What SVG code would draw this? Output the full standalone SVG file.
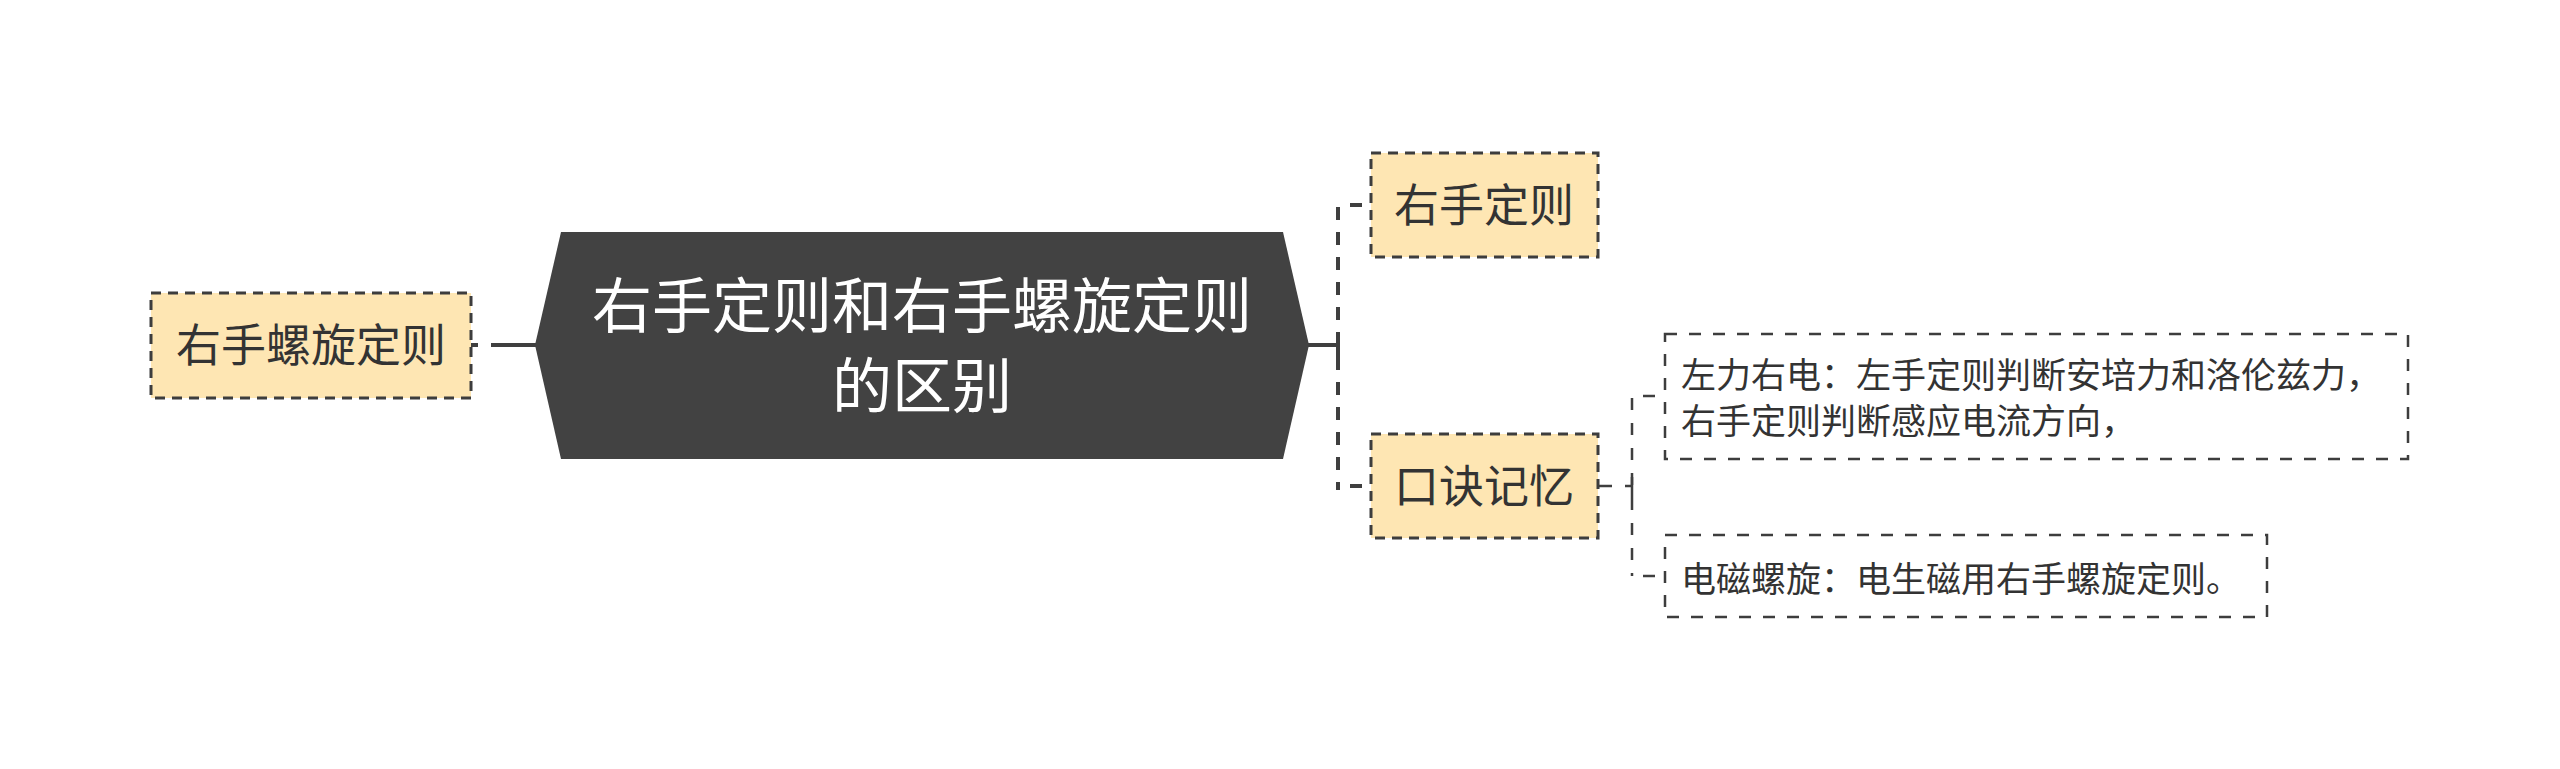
<svg xmlns="http://www.w3.org/2000/svg" width="2560" height="769" viewBox="0 0 2560 769">
<style>
  .bg { fill: #ffffff; }
  .yellow { fill: #FEE6B3; stroke: #3d3d3d; stroke-width: 3; stroke-dasharray: 10 7; }
  .white { fill: #ffffff; stroke: #3d3d3d; stroke-width: 2.5; stroke-dasharray: 12 12; }
  .center { fill: #424242; }
  .t { font-family: "Noto Sans CJK SC", "Noto Sans", sans-serif; fill: #333333; }
  .tc { font-family: "Noto Sans CJK SC", "Noto Sans", sans-serif; fill: #ffffff; font-size: 60px; text-anchor: middle; }
  .tm { font-size: 45px; text-anchor: middle; }
  .ts { font-size: 35px; }
  .solid { stroke: #3f3f3f; stroke-width: 4; fill: none; }
  .dash { stroke: #3f3f3f; stroke-width: 4; fill: none; stroke-dasharray: 13 12; }
  .solid2 { stroke: #3f3f3f; stroke-width: 2.5; fill: none; }
  .dash2 { stroke: #3f3f3f; stroke-width: 2.5; fill: none; stroke-dasharray: 12 13; }
</style>
<rect class="bg" x="0" y="0" width="2560" height="769"/>

<g id="connectors">
  <!-- left: center to 右手螺旋定则 -->
  <line class="solid" x1="491" y1="345" x2="536" y2="345"/>
  <line class="solid" x1="471" y1="345" x2="478" y2="345"/>
  <!-- right: center to trunk -->
  <line class="solid" x1="1307" y1="345" x2="1338" y2="345"/>
  <line class="solid" x1="1338" y1="333" x2="1338" y2="358"/>
  <line class="dash" x1="1338" y1="207" x2="1338" y2="490"/>
  <line class="solid" x1="1350" y1="205" x2="1362" y2="205"/>
  <line class="solid" x1="1350" y1="486" x2="1362" y2="486"/>
  <!-- 口诀记忆 to children -->
  <line class="solid2" x1="1598" y1="486" x2="1612" y2="486"/>
  <line class="solid2" x1="1625" y1="486" x2="1632" y2="486"/>
  <line class="solid2" x1="1632" y1="477" x2="1632" y2="498"/>
  <line class="dash2" x1="1632" y1="398" x2="1632" y2="576"/>
  <line class="solid2" x1="1643" y1="396" x2="1655" y2="396"/>
  <line class="solid2" x1="1643" y1="576" x2="1655" y2="576"/>
</g>

<g id="node-center">
  <polygon class="center" points="561,232 1283,232 1309,345 1283,459 561,459 535,345"/>
  <text class="tc" x="922" y="328">右手定则和右手螺旋定则</text>
  <text class="tc" x="922" y="408">的区别</text>
</g>

<g id="node-left">
  <rect class="yellow" x="151" y="293" width="320" height="105"/>
  <text class="t tm" x="311" y="362">右手螺旋定则</text>
</g>

<g id="node-rule">
  <rect class="yellow" x="1371" y="153" width="227" height="104"/>
  <text class="t tm" x="1484" y="222">右手定则</text>
</g>

<g id="node-mnemonic">
  <rect class="yellow" x="1371" y="434" width="227" height="104"/>
  <text class="t tm" x="1484" y="503">口诀记忆</text>
</g>

<g id="node-leftforce">
  <rect class="white" x="1665" y="334" width="743" height="125"/>
  <text class="t ts" x="1681" y="388">左力右电：左手定则判断安培力和洛伦兹力，</text>
  <text class="t ts" x="1681" y="434">右手定则判断感应电流方向，</text>
</g>

<g id="node-solenoid">
  <rect class="white" x="1665" y="535" width="602" height="82"/>
  <text class="t ts" x="1681" y="592">电磁螺旋：电生磁用右手螺旋定则。</text>
</g>
</svg>
